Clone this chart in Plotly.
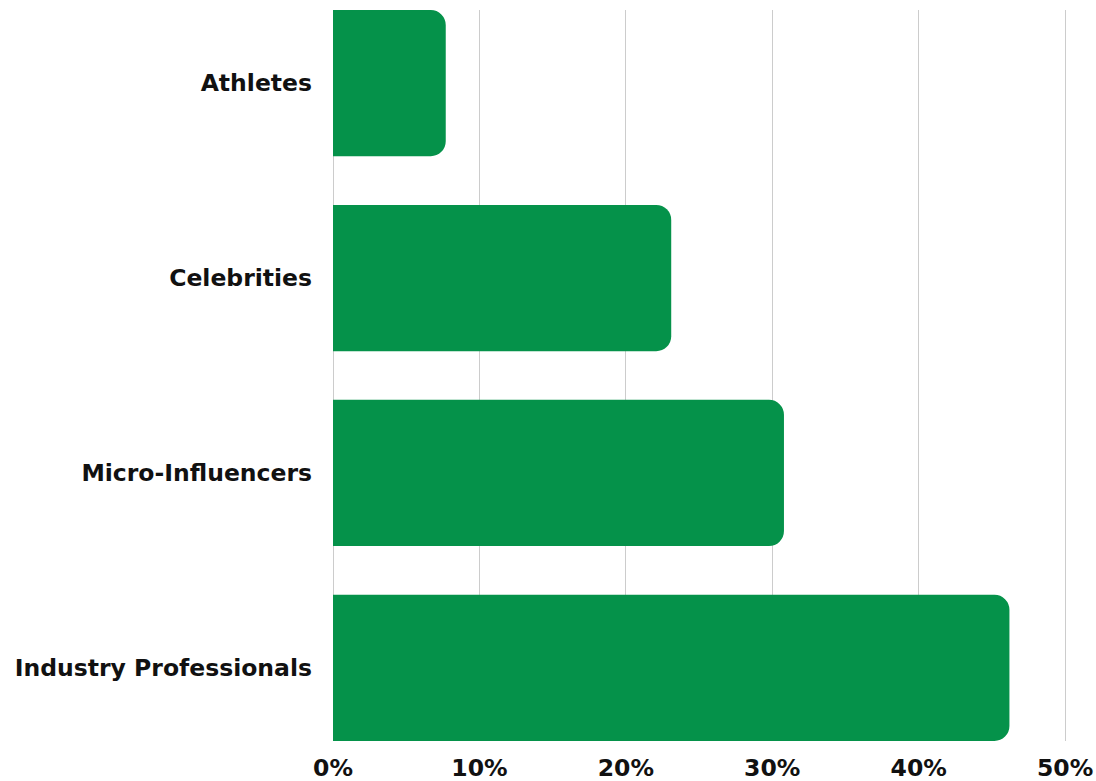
import plotly.graph_objects as go

categories = ["Athletes", "Celebrities", "Micro-Influencers", "Industry Professionals"]
shares = [7.7, 23.1, 30.8, 46.2]
tick_values = [0, 10, 20, 30, 40, 50]
tick_labels = ["0%", "10%", "20%", "30%", "40%", "50%"]

label_font = dict(family="DejaVu Sans", size=23.5, color="#111111", weight="bold")

fig = go.Figure(
    go.Bar(
        x=shares,
        y=categories,
        orientation="h",
        marker=dict(color="#05924A", cornerradius=15, line=dict(width=0)),
        hoverinfo="x+y",
    )
)

fig.update_layout(
    width=1096,
    height=781,
    margin=dict(l=333, r=28, t=10, b=40),
    paper_bgcolor="white",
    plot_bgcolor="white",
    bargap=0.25,
    showlegend=False,
    font=dict(family="DejaVu Sans", size=23.5, color="#111111"),
)

fig.update_xaxes(
    range=[0, 50.2],
    tickvals=tick_values,
    ticktext=tick_labels,
    showgrid=True,
    gridcolor="#cccccc",
    gridwidth=1,
    zeroline=True,
    zerolinecolor="#cccccc",
    zerolinewidth=1,
    showline=False,
    ticks="",
    ticklabelstandoff=10,
    automargin=False,
    tickfont=label_font,
)

fig.update_yaxes(
    autorange=False,
    range=[3.375, -0.375],
    showgrid=False,
    zeroline=False,
    showline=False,
    ticks="",
    ticklabelstandoff=20,
    automargin=False,
    tickfont=label_font,
)

fig.write_html("out.html")
